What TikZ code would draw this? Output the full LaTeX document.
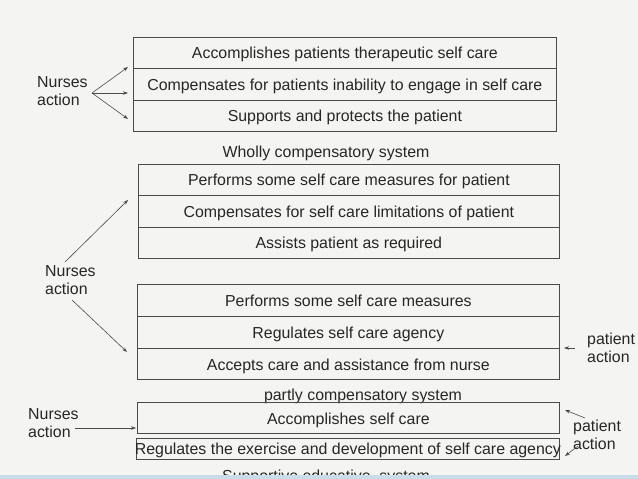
\documentclass[tikz,border=0pt]{standalone}
\usepackage{fontspec}
\setmainfont{Liberation Sans}
\usetikzlibrary{arrows.meta}
\definecolor{bgc}{HTML}{F4F4F2}
\definecolor{linec}{HTML}{4A4A4A}
\definecolor{txt}{HTML}{262626}
\definecolor{strip}{HTML}{C9DCEA}
\newcommand{\fsz}{\fontsize{15.9}{18}\selectfont}
\begin{document}
\begin{tikzpicture}[x=1pt,y=-1pt,
  rowbox/.style={draw=linec, line width=0.75pt, inner sep=0pt, anchor=north west,
    minimum width=#1, font=\fsz, text=txt, text height=13pt, text depth=0pt},
  lbl/.style={font=\fsz, text=txt, align=left, inner sep=0pt, anchor=west},
  captxt/.style={font=\fsz, text=txt, inner sep=0pt, anchor=base},
  arr/.style={draw=linec, line width=0.6pt, -{Stealth[length=5pt,width=3.5pt]}}]
\fill[bgc] (0,0) rectangle (638,479);
\useasboundingbox (0,0) rectangle (638,479);

% Wholly compensatory
\node[rowbox=423pt, minimum height=31pt] (r11) at (133,36.5) {Accomplishes patients therapeutic self care};
\node[rowbox=423pt, minimum height=32pt] (r12) at (133,67.5) {Compensates for patients inability to engage in self care};
\node[rowbox=423pt, minimum height=31pt] (r13) at (133,99.5) {Supports and protects the patient};
\node[captxt] (c1) at (326,157) {Wholly compensatory system};

% Partly compensatory
\node[rowbox=421pt, minimum height=31pt] (r21) at (138,163.5) {Performs some self care measures for patient};
\node[rowbox=421pt, minimum height=32pt] (r22) at (138,194.5) {Compensates for self care limitations of patient};
\node[rowbox=421pt, minimum height=31pt] (r23) at (138,226.5) {Assists patient as required};

\node[rowbox=422pt, minimum height=32pt] (r31) at (137,284) {Performs some self care measures};
\node[rowbox=422pt, minimum height=32pt] (r32) at (137,316) {Regulates self care agency};
\node[rowbox=422pt, minimum height=31pt] (r33) at (137,348) {Accepts care and assistance from nurse};
\node[captxt] (c2) at (363,400) {partly compensatory system};

% Supportive educative
\node[rowbox=422pt, minimum height=31pt] (r41) at (137,402) {Accomplishes self care};
\node[rowbox=423pt, minimum height=21pt, text height=12pt] (r42) at (136,438) {\makebox[423pt]{Regulates the exercise and development of self care agency}};
\node[captxt] (c3) at (326,481) {Supportive educative\ \ system};

% labels
\node[lbl] (na1) at (37,91) {Nurses\\action};
\node[lbl] (na2) at (45,280) {Nurses\\action};
\node[lbl] (na3) at (28,423) {Nurses\\action};
\node[lbl] (pa1) at (587,347.5) {patient\\action};
\node[lbl] (pa2) at (573,434.5) {patient\\action};

% arrow coordinates
\coordinate (o1) at (92,93);
\coordinate (e11) at (128,67);
\coordinate (e12) at (128,93);
\coordinate (e13) at (128,119);
\coordinate (o2a) at (65,262);
\coordinate (e2a) at (128,200);
\coordinate (o2b) at (72,300);
\coordinate (e2b) at (127,352);
\coordinate (o3) at (75,428);
\coordinate (e3) at (136,428);
\coordinate (p1o) at (575,348);
\coordinate (p1e) at (564,348);
\coordinate (p2ao) at (585,418);
\coordinate (p2ae) at (565,410);
\coordinate (p2bo) at (578,446);
\coordinate (p2be) at (565,456);

\draw[arr] (o1) -- (e11);
\draw[arr] (o1) -- (e12);
\draw[arr] (o1) -- (e13);
\draw[arr] (o2a) -- (e2a);
\draw[arr] (o2b) -- (e2b);
\draw[arr] (o3) -- (e3);
\draw[arr] (p1o) -- (p1e);
\draw[arr] (p2ao) -- (p2ae);
\draw[arr] (p2bo) -- (p2be);

\fill[strip] (0,475) rectangle (638,479);
\end{tikzpicture}
\end{document}
